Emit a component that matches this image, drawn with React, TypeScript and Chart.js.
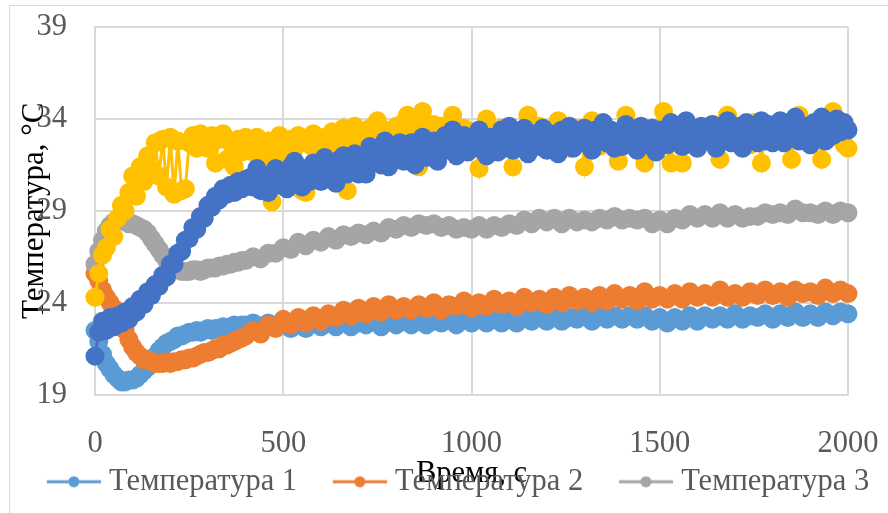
import React, { useEffect, useRef } from "react";
import { Chart, registerables } from "chart.js";

Chart.register(...registerables);

// Time, s (series 1-3)
const times = [
  0, 10, 20, 30, 40, 50, 60, 70, 80, 90,
  100, 110, 120, 130, 140, 150, 160, 170, 180, 190,
  200, 210, 220, 230, 240, 250, 260, 270, 280, 290,
  300, 310, 320, 330, 340, 350, 360, 370, 380, 390,
  400,
  420, 440, 460, 480, 500, 520, 540, 560, 580, 600,
  620, 640, 660, 680, 700, 720, 740, 760, 780, 800,
  820, 840, 860, 880, 900, 920, 940, 960, 980, 1000,
  1020, 1040, 1060, 1080, 1100, 1120, 1140, 1160, 1180, 1200,
  1220, 1240, 1260, 1280, 1300, 1320, 1340, 1360, 1380, 1400,
  1420, 1440, 1460, 1480, 1500, 1520, 1540, 1560, 1580, 1600,
  1620, 1640, 1660, 1680, 1700, 1720, 1740, 1760, 1780, 1800,
  1820, 1840, 1860, 1880, 1900, 1920, 1940, 1960, 1980, 2000,
];

// Time, s (series 4-5, sampled more densely)
const timesFine = [
  0, 10, 20, 30, 40, 50, 60, 70, 80, 90,
  100, 110, 120, 130, 140, 150, 160, 170, 180, 190,
  200, 210, 220, 230, 240, 250, 260, 270, 280, 290,
  300, 310, 320, 330, 340, 350, 360, 370, 380, 390,
  400, 410, 420, 430, 440, 450, 460, 470, 480, 490,
  500, 510, 520, 530, 540, 550, 560, 570, 580, 590,
  600, 610, 620, 630, 640, 650, 660, 670, 680, 690,
  700, 710, 720, 730, 740, 750, 760, 770, 780, 790,
  800, 810, 820, 830, 840, 850, 860, 870, 880, 890,
  900, 910, 920, 930, 940, 950, 960, 970, 980, 990,
  1000, 1010, 1020, 1030, 1040, 1050, 1060, 1070, 1080, 1090,
  1100, 1110, 1120, 1130, 1140, 1150, 1160, 1170, 1180, 1190,
  1200, 1210, 1220, 1230, 1240, 1250, 1260, 1270, 1280, 1290,
  1300, 1310, 1320, 1330, 1340, 1350, 1360, 1370, 1380, 1390,
  1400, 1410, 1420, 1430, 1440, 1450, 1460, 1470, 1480, 1490,
  1500, 1510, 1520, 1530, 1540, 1550, 1560, 1570, 1580, 1590,
  1600, 1610, 1620, 1630, 1640, 1650, 1660, 1670, 1680, 1690,
  1700, 1710, 1720, 1730, 1740, 1750, 1760, 1770, 1780, 1790,
  1800, 1810, 1820, 1830, 1840, 1850, 1860, 1870, 1880, 1890,
  1900, 1910, 1920, 1930, 1940, 1950, 1960, 1970, 1980, 1990,
  2000,
];

const temp1 = [
  22.5, 21.9, 21.2, 20.7, 20.4, 20.1, 19.9, 19.7, 19.7, 19.8,
  19.8, 19.9, 20.1, 20.3, 20.5, 20.8, 21.1, 21.4, 21.6, 21.8,
  21.9, 22.0, 22.2, 22.2, 22.3, 22.4, 22.4, 22.5, 22.4, 22.5,
  22.6, 22.5, 22.6, 22.6, 22.7, 22.6, 22.7, 22.8, 22.7, 22.8,
  22.8,
  22.9, 22.6, 22.9, 22.7, 23.0, 22.6, 22.8, 22.6, 22.9, 22.7,
  22.9, 22.7, 23.0, 22.7, 22.9, 22.8, 23.0, 22.7, 23.0, 22.8,
  23.0, 22.8, 23.1, 22.8, 23.0, 22.9, 23.1, 22.8, 23.1, 22.9,
  23.1, 22.9, 23.2, 22.9, 23.1, 22.9, 23.2, 23.0, 23.2, 23.0,
  23.3, 23.0, 23.2, 23.1, 23.3, 23.0, 23.3, 23.1, 23.3, 23.1,
  23.3, 23.1, 23.3, 23.0, 23.2, 22.9, 23.2, 23.0, 23.3, 23.0,
  23.3, 23.1, 23.3, 23.1, 23.4, 23.1, 23.3, 23.2, 23.4, 23.1,
  23.4, 23.2, 23.5, 23.2, 23.4, 23.2, 23.5, 23.3, 23.5, 23.4,
];

const temp2 = [
  25.6, 25.2, 24.7, 24.3, 24.0, 23.7, 23.3, 22.9, 22.5, 22.0,
  21.6, 21.3, 21.1, 20.9, 20.9, 20.8, 20.7, 20.7, 20.7, 20.8,
  20.7, 20.8, 20.8, 20.9, 20.9, 21.0, 21.0, 21.1, 21.2, 21.3,
  21.3, 21.4, 21.5, 21.5, 21.7, 21.7, 21.8, 21.9, 22.0, 22.1,
  22.2,
  22.5, 22.3, 22.8, 22.6, 23.1, 22.8, 23.2, 22.9, 23.3, 23.0,
  23.4, 23.2, 23.6, 23.3, 23.7, 23.4, 23.8, 23.5, 23.9, 23.6,
  23.8, 23.6, 23.9, 23.7, 24.0, 23.6, 23.9, 23.8, 24.1, 23.7,
  24.0, 23.8, 24.2, 23.9, 24.1, 23.8, 24.3, 24.0, 24.2, 23.9,
  24.3, 24.0, 24.4, 24.1, 24.3, 24.0, 24.4, 24.1, 24.5, 24.2,
  24.4, 24.1, 24.6, 24.2, 24.4, 24.2, 24.5, 24.2, 24.6, 24.3,
  24.5, 24.3, 24.7, 24.3, 24.5, 24.3, 24.6, 24.4, 24.7, 24.4,
  24.6, 24.3, 24.7, 24.5, 24.6, 24.4, 24.8, 24.5, 24.7, 24.5,
];

const temp3 = [
  26.1, 26.8, 27.4, 27.9, 28.2, 28.4, 28.5, 28.5, 28.4, 28.3,
  28.3, 28.2, 28.1, 28.0, 27.8, 27.5, 27.2, 26.9, 26.6, 26.3,
  26.1, 25.9, 25.8, 25.7, 25.7, 25.7, 25.8, 25.8, 25.7, 25.8,
  25.9, 25.9, 25.9, 26.0, 26.0, 26.1, 26.1, 26.2, 26.2, 26.3,
  26.3,
  26.5, 26.4, 26.7, 26.7, 27.0, 26.9, 27.3, 27.1, 27.4, 27.3,
  27.6, 27.4, 27.7, 27.6, 27.8, 27.7, 27.9, 27.8, 28.1, 28.0,
  28.2, 28.1, 28.3, 28.2, 28.3, 28.1, 28.2, 28.0, 28.1, 28.0,
  28.2, 28.0, 28.2, 28.1, 28.3, 28.2, 28.5, 28.3, 28.6, 28.4,
  28.6, 28.3, 28.6, 28.4, 28.5, 28.4, 28.6, 28.5, 28.7, 28.5,
  28.6, 28.5, 28.6, 28.3, 28.5, 28.3, 28.6, 28.5, 28.8, 28.6,
  28.8, 28.6, 28.9, 28.6, 28.8, 28.6, 28.7, 28.7, 28.9, 28.8,
  28.9, 28.8, 29.1, 28.9, 28.9, 28.8, 29.0, 28.8, 29.0, 28.9,
];

const temp4 = [
  24.3, 25.6, 26.6, 27.0, 28.0, 27.6, 28.6, 29.3, 29.0, 30.0,
  30.9, 29.8, 31.4, 30.6, 32.0, 31.2, 32.7, 30.9, 32.9, 30.3,
  33.0, 29.9, 32.8, 30.1, 30.2, 32.7, 33.1, 32.4, 33.2, 32.8,
  32.4, 33.1, 31.6, 32.9, 33.2, 31.8, 32.7, 31.4, 32.9, 32.2,
  33.0,
  32.6, 32.2, 33.0, 32.4, 31.8, 32.8, 29.5, 32.3, 33.1, 32.5,
  32.0, 32.9, 32.4, 33.1, 30.1, 30.0, 32.6, 33.2, 32.3, 32.8,
  33.0, 32.5, 33.3, 32.7, 32.2, 33.5, 30.1, 32.8, 33.6, 32.9,
  33.2, 32.6, 33.5, 33.0, 33.9, 32.8, 33.4, 33.1, 32.7, 33.6,
  33.2, 33.8, 34.2, 32.9, 33.5, 31.4, 34.4, 33.3, 32.8, 33.7,
  33.1, 33.6, 32.7, 33.2, 34.2, 33.0, 32.6, 33.5, 32.9, 33.3,
  32.8, 31.3, 33.4, 34.0, 32.6, 33.2, 32.9, 33.5, 32.4, 33.1,
  31.4, 32.8, 33.3, 32.5, 34.2, 33.0, 32.7, 33.6, 32.9, 33.2,
  32.6, 33.4, 33.9, 32.8, 33.1, 32.4, 33.3, 32.7, 33.5, 31.4,
  32.9, 33.9, 33.2, 32.5, 33.6, 32.8, 33.1, 32.6, 31.7, 33.3,
  34.2, 33.0, 32.7, 33.4, 32.9, 31.6, 33.2, 32.6, 33.5, 33.0,
  34.4, 32.8, 31.6, 33.3, 32.7, 31.6, 33.6, 32.9, 33.2, 32.6,
  33.4, 32.8, 33.1, 33.7, 32.5, 31.8, 33.3, 34.2, 32.9, 33.2,
  32.7, 33.5, 33.0, 32.6, 33.8, 33.2, 31.6, 33.4, 32.9, 33.6,
  33.1, 32.8, 33.5, 33.0, 31.8, 33.4, 34.2, 32.9, 33.6, 33.2,
  32.8, 33.5, 31.8, 33.2, 33.7, 34.4, 33.0, 33.4, 32.6, 32.4,
];

const temp5 = [
  21.1, 22.4, 23.0, 22.5, 23.2, 22.7, 23.3, 22.9, 23.5, 23.1,
  23.8, 23.5, 24.2, 23.9, 24.6, 24.4, 25.0, 24.9, 25.5, 25.4,
  26.1, 26.1, 26.7, 26.8, 27.4, 27.5, 28.1, 28.0, 28.7, 28.6,
  29.3, 29.2, 29.8, 29.6, 30.2, 29.9, 30.4, 30.0, 30.6, 30.2,
  30.7,
  30.8, 30.3, 31.3, 30.1, 30.7, 30.0, 31.0, 31.3, 30.4, 30.9,
  30.2, 31.4, 31.7, 30.8, 30.3, 31.3, 30.6, 31.6, 31.1, 30.6,
  31.9, 31.0, 31.4, 30.5, 31.8, 32.0, 31.0, 31.5, 32.1, 31.0,
  31.9, 31.0, 32.5, 31.7, 32.2, 31.5, 32.8, 31.4, 32.2, 31.8,
  32.7, 31.7, 32.1, 32.7, 31.5, 32.5, 33.0, 31.9, 32.4, 32.8,
  31.7, 32.6, 33.1, 32.3, 33.4, 32.0, 32.5, 33.1, 32.2, 32.9,
  32.7, 33.4, 32.3, 32.0, 33.0, 32.8, 32.2, 33.4, 32.6, 33.6,
  32.3, 33.0, 32.7, 33.5, 32.1, 33.2, 32.9, 32.5, 33.5, 32.3,
  33.2, 33.0, 32.1, 33.4, 32.7, 33.6, 32.4, 33.1, 32.8, 33.5,
  32.6, 32.3, 33.4, 33.0, 33.8, 32.7, 33.4, 32.4, 33.1, 32.5,
  33.7, 32.9, 33.2, 32.3, 33.6, 32.6, 33.1, 33.5, 32.2, 33.4,
  33.1, 32.6, 33.8, 32.9, 33.4, 32.5, 33.9, 33.0, 33.3, 32.4,
  33.6, 32.8, 33.2, 33.7, 32.4, 33.5, 33.0, 33.9, 32.7, 33.2,
  33.6, 32.4, 33.8, 33.1, 33.4, 32.7, 33.9, 32.8, 33.7, 32.7,
  33.4, 33.9, 32.7, 33.7, 33.1, 34.1, 32.8, 33.3, 33.6, 32.6,
  33.8, 33.2, 34.1, 32.8, 33.5, 33.1, 34.0, 33.3, 33.8, 33.4,
];

const seriesNames = [
  "Температура 1",
  "Температура 2",
  "Температура 3",
  "Температура 4",
  "Температура 5",
];
const seriesColors = ["#5B9BD5", "#ED7D31", "#A5A5A5", "#FFC000", "#4472C4"];
const xTickValues = [0, 500, 1000, 1500, 2000];
const yTickValues = [19, 24, 29, 34, 39];
const xTitle = "Время, с";
const yTitle = "Температура, °C";
const legendCount = 3;

const FONT = "'Liberation Serif', 'Times New Roman', serif";

function makeMarker(color: string): HTMLCanvasElement {
  // transparent left margin, then a line with a dot in its middle
  const left = 35;
  const len = 54;
  const c = document.createElement("canvas");
  c.width = left + len;
  c.height = 14;
  const g = c.getContext("2d")!;
  g.strokeStyle = color;
  g.lineWidth = 3;
  g.beginPath();
  g.moveTo(left, 7);
  g.lineTo(left + len, 7);
  g.stroke();
  g.fillStyle = color;
  g.beginPath();
  g.arc(left + len / 2, 7, 5.5, 0, Math.PI * 2);
  g.fill();
  return c;
}

export default function App() {
  const ref = useRef<HTMLCanvasElement>(null);

  useEffect(() => {
    const canvas = ref.current;
    if (!canvas) return;
    const series = [temp1, temp2, temp3, temp4, temp5];
    const seriesX = [times, times, times, timesFine, timesFine];
    const markers = seriesColors.map((c) => makeMarker(c));

    const datasets = series.map((s, i) => ({
      label: seriesNames[i],
      data: s.map((v, j) => ({ x: seriesX[i][j], y: v })),
      borderColor: seriesColors[i],
      backgroundColor: seriesColors[i],
      pointBackgroundColor: seriesColors[i],
      pointBorderColor: seriesColors[i],
      pointRadius: 9.5,
      pointBorderWidth: 0,
      pointHoverRadius: 9.5,
      borderWidth: 3,
      tension: 0,
      order: series.length - i,
      clip: false as any,
    }));

    const frame = {
      id: "frame",
      beforeDraw(chart: any) {
        const ctx = chart.ctx;
        ctx.save();
        ctx.strokeStyle = "#d9d9d9";
        ctx.lineWidth = 1;
        ctx.beginPath();
        ctx.moveTo(9.5, 513);
        ctx.lineTo(9.5, 5.5);
        ctx.lineTo(888, 5.5);
        ctx.stroke();
        ctx.restore();
      },
    };

    const gridStyle = { color: "#d9d9d9", lineWidth: 2, drawTicks: false };
    const borderStyle = { color: "#d9d9d9", width: 2 };

    const chart = new Chart(canvas, {
      type: "line",
      data: { datasets: datasets as any },
      plugins: [frame],
      options: {
        animation: false,
        responsive: false,
        devicePixelRatio: 1,
        layout: { padding: { left: 0, top: 27, right: 0, bottom: 6 } },
        scales: {
          x: {
            type: "linear",
            min: 0,
            max: 2000,
            afterBuildTicks: (s: any) => {
              s.ticks = xTickValues.map((v) => ({ value: v }));
            },
            afterFit: (s: any) => {
              s.height = 64;
              s.paddingLeft = 0;
              s.paddingRight = 0;
              s.paddingTop = 0;
              s.paddingBottom = 0;
            },
            ticks: {
              font: { family: FONT, size: 30.5 },
              color: "#595959",
              padding: 31,
              maxRotation: 0,
              autoSkip: false,
              callback: (v: any) => String(v),
            },
            grid: gridStyle,
            border: borderStyle,
            title: {
              display: true,
              text: xTitle,
              color: "#000000",
              font: { family: FONT, size: 30.5 },
              padding: { top: 0, bottom: -34 },
            },
          },
          y: {
            type: "linear",
            min: 19,
            max: 39,
            afterBuildTicks: (s: any) => {
              s.ticks = yTickValues.map((v) => ({ value: v }));
            },
            afterFit: (s: any) => {
              s.width = 95;
              s.paddingLeft = 0;
              s.paddingRight = 0;
              s.paddingTop = 0;
              s.paddingBottom = 0;
            },
            ticks: {
              font: { family: FONT, size: 30.5 },
              color: "#595959",
              padding: 28,
              callback: (v: any) => String(v),
            },
            grid: gridStyle,
            border: borderStyle,
            title: {
              display: true,
              text: yTitle,
              color: "#000000",
              font: { family: FONT, size: 31 },
              padding: { top: 16, bottom: 0 },
            },
          },
          yR: {
            type: "linear",
            position: "right",
            display: true,
            grid: { display: false },
            border: { display: false },
            ticks: { display: false },
            afterFit: (s: any) => {
              s.width = 40;
              s.paddingTop = 0;
              s.paddingBottom = 0;
            },
          },
        } as any,
        plugins: {
          legend: {
            position: "bottom",
            labels: {
              font: { family: FONT, size: 30.5 },
              color: "#595959",
              padding: 7.75,
              usePointStyle: true,
              pointStyleWidth: 75,
              generateLabels: () =>
                seriesNames.slice(0, legendCount).map((n, i) => ({
                  text: n,
                  fillStyle: seriesColors[i],
                  strokeStyle: seriesColors[i],
                  fontColor: "#595959",
                  lineWidth: 0,
                  pointStyle: markers[i] as any,
                  hidden: false,
                  datasetIndex: i,
                })),
            },
          },
          tooltip: { enabled: false },
        },
      },
    });
    return () => chart.destroy();
  }, []);

  return (
    <div style={{ position: "absolute", left: 0, top: 0, width: 888, height: 513, background: "#fff" }}>
      <canvas ref={ref} width={888} height={513} style={{ display: "block", width: 888, height: 513 }} />
    </div>
  );
}
